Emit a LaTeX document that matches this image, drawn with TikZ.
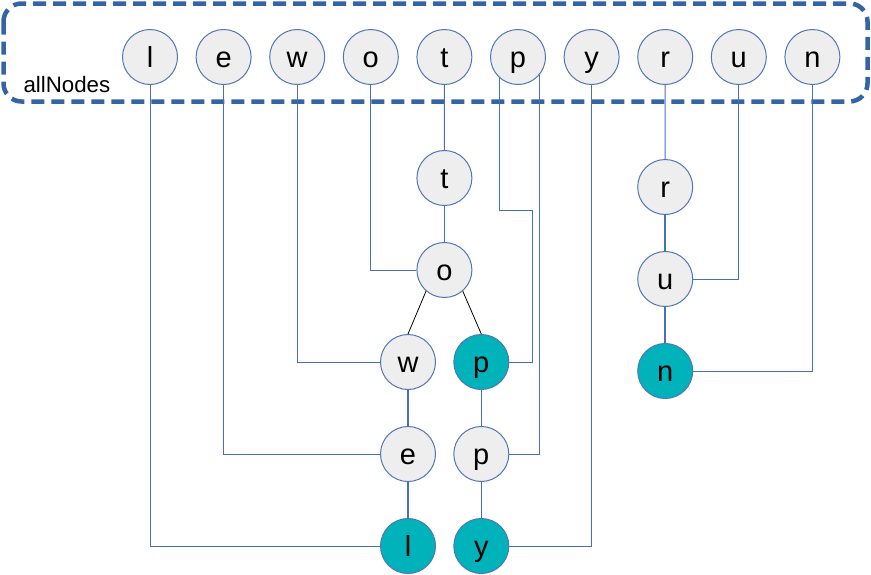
\documentclass[tikz,border=0pt]{standalone}
\usepackage{fontspec}
\setmainfont{Liberation Sans}
\definecolor{linkblue}{RGB}{72,112,184}
\definecolor{ringblue}{RGB}{80,118,182}
\definecolor{boxblue}{RGB}{52,100,166}
\definecolor{nodegray}{RGB}{238,238,238}
\definecolor{nodeteal}{RGB}{0,178,186}
\begin{document}
\begin{tikzpicture}[x=1pt,y=-1pt,
  letter/.style={circle,draw=ringblue,line width=1pt,fill=nodegray,minimum size=55pt,inner sep=0pt,
    font=\fontsize{29}{31}\selectfont,text height=26.2pt,text depth=6.15pt},
  endnode/.style={letter,fill=nodeteal},
  link/.style={draw=linkblue,line width=1pt},
  treeedge/.style={draw=linkblue,line width=1.6pt},
  childedge/.style={draw=black,line width=0.8pt}]
\useasboundingbox (0,0) rectangle (871,574);
% dashed container
\draw[boxblue,line width=4.5pt,dash pattern=on 13pt off 7pt,rounded corners=18pt] (3.5,3.5) rectangle (867.5,101.5);
\node[anchor=base west,font=\fontsize{22.3}{25}\selectfont,inner sep=0pt] (lbl) at (23.3,92.3) {allNodes};
% top row
\foreach \n/\t [count=\i from 0] in {ltop/l,etop/e,wtop/w,otop/o,ttop/t,ptop/p,ytop/y,rtop/r,utop/u,ntop/n}
  \node[letter] (\n) at ({150+73.6*\i},57) {\t};
% tree
\node[letter] (tbot) at (444.4,178) {t};
\node[letter] (obot) at (444.4,270) {o};
\node[letter] (wbot) at (408,362) {w};
\node[endnode] (pone) at (481.3,362) {p};
\node[letter] (ebot) at (408,454) {e};
\node[letter] (ptwo) at (481.3,454) {p};
\node[endnode] (lbot) at (408,546) {l};
\node[endnode] (ybot) at (481.3,546) {y};
\node[letter] (rbot) at (665.2,187) {r};
\node[letter] (ubot) at (665.2,279) {u};
\node[endnode] (nbot) at (665.2,371) {n};
\coordinate (pj) at (532.7,210);
% connectors from the top row
\path[link] (ltop) |- (lbot);
\path[link] (etop) |- (ebot);
\path[link] (wtop) |- (wbot);
\path[link] (otop) |- (obot);
\path[link] (ttop) -- (tbot);
\path[link] (ptop.229) |- (pj) |- (pone);
\path[link] (ptop.320) |- (ptwo);
\path[link] (ytop) |- (ybot);
\path[link] (rtop) -- (rbot);
\path[link] (utop) |- (ubot);
\path[link] (ntop) |- (nbot);
% tree edges
\path[treeedge] (tbot) -- (obot);
\path[treeedge] (wbot) -- (ebot);
\path[treeedge] (ebot) -- (lbot);
\path[link] (pone) -- (ptwo);
\path[link] (ptwo) -- (ybot);
\path[treeedge] (rbot) -- (ubot);
\path[treeedge] (ubot) -- (nbot);
\path[childedge] (obot.229) -- (wbot.north);
\path[childedge] (obot.311) -- (pone.north);
\end{tikzpicture}
\end{document}
